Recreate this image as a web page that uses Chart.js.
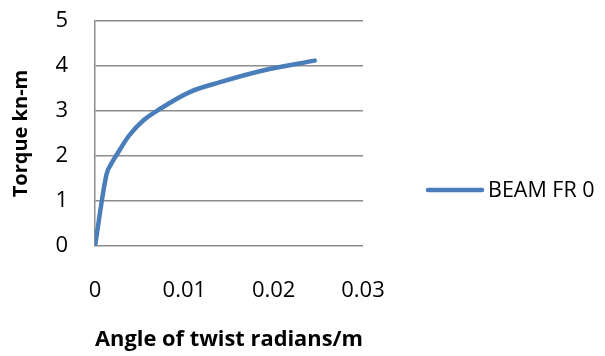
<!DOCTYPE html>
<html>
<head>
<meta charset="utf-8">
<script src="https://cdn.jsdelivr.net/npm/chart.js@4"></script>
<style>
  html, body { margin: 0; padding: 0; background: #fff; }
  #wrap { width: 605px; height: 356px; }
</style>
</head>
<body>
<div id="wrap"><canvas id="torqueChart" width="605" height="356"></canvas></div>
<script>
// twist angle (radians/m) and torque (kN-m)
const twistAngle = [0, 0.0013, 0.0018, 0.0025, 0.0038, 0.0054, 0.0073, 0.0106, 0.014, 0.0188, 0.0246];
const torque     = [0, 1.6, 1.82, 2.05, 2.45, 2.79, 3.05, 3.42, 3.64, 3.9, 4.12];
const seriesName = 'BEAM FR 0';
const xTicks = [0, 0.01, 0.02, 0.03];
const yTicks = [0, 1, 2, 3, 4, 5];

const points = twistAngle.map((x, i) => ({ x: x, y: torque[i] }));
const lineBlue = '#4A7EBB';
const gridGrey = '#8c8c8c';
const font = 'Open Sans';

// legend drawn by hand so it can sit apart from the plot like the original
const sideLegend = {
    id: 'sideLegend',
    afterDraw(chart) {
        const ctx = chart.ctx;
        const y = 190;
        ctx.save();
        ctx.strokeStyle = lineBlue;
        ctx.lineWidth = 4.5;
        ctx.lineCap = 'round';
        ctx.beginPath();
        ctx.moveTo(428, y);
        ctx.lineTo(482, y);
        ctx.stroke();
        ctx.fillStyle = '#000';
        ctx.font = '21.5px "' + font + '"';
        ctx.textBaseline = 'middle';
        ctx.fillText(chart.data.datasets[0].label, 488, y + 1);
        ctx.restore();
    }
};

new Chart(document.getElementById('torqueChart'), {
    type: 'scatter',
    data: {
        datasets: [{
            label: seriesName,
            data: points,
            showLine: true,
            borderColor: lineBlue,
            backgroundColor: lineBlue,
            borderWidth: 4.5,
            pointRadius: 0,
            cubicInterpolationMode: 'monotone',
            borderCapStyle: 'round'
        }]
    },
    plugins: [sideLegend],
    options: {
        responsive: false,
        animation: false,
        layout: { padding: { left: 0, top: 21, right: 242, bottom: 0 } },
        plugins: {
            legend: { display: false },
            tooltip: { enabled: false }
        },
        scales: {
            x: {
                type: 'linear',
                min: 0,
                max: 0.03,
                afterBuildTicks: axis => { axis.ticks = xTicks.map(v => ({ value: v })); },
                afterFit: axis => { axis.height = 110; },
                ticks: {
                    color: '#000',
                    padding: 32,
                    maxRotation: 0,
                    font: { family: font, size: 22 },
                    callback: v => String(+v.toFixed(2))
                },
                grid: { display: false, drawTicks: false },
                border: { display: false },
                title: {
                    display: true,
                    text: 'Angle of twist radians/m',
                    color: '#000',
                    font: { family: font, size: 22, weight: 'bold' },
                    padding: { top: 0, bottom: 3 }
                }
            },
            y: {
                min: 0,
                max: 5,
                afterBuildTicks: axis => { axis.ticks = yTicks.map(v => ({ value: v })); },
                afterFit: axis => {
                    axis.width = 95;
                    axis.paddingTop = 0;
                    axis.paddingBottom = 0;
                },
                ticks: {
                    color: '#000',
                    padding: 27,
                    font: { family: font, size: 22 }
                },
                grid: { color: gridGrey, lineWidth: 1.5, drawTicks: false },
                border: { display: true, color: gridGrey, width: 1.5 },
                title: {
                    display: true,
                    text: 'Torque kn-m',
                    color: '#000',
                    font: { family: font, size: 20, weight: 'bold' },
                    padding: { top: 9, bottom: 0 }
                }
            }
        }
    }
});
</script>
</body>
</html>
